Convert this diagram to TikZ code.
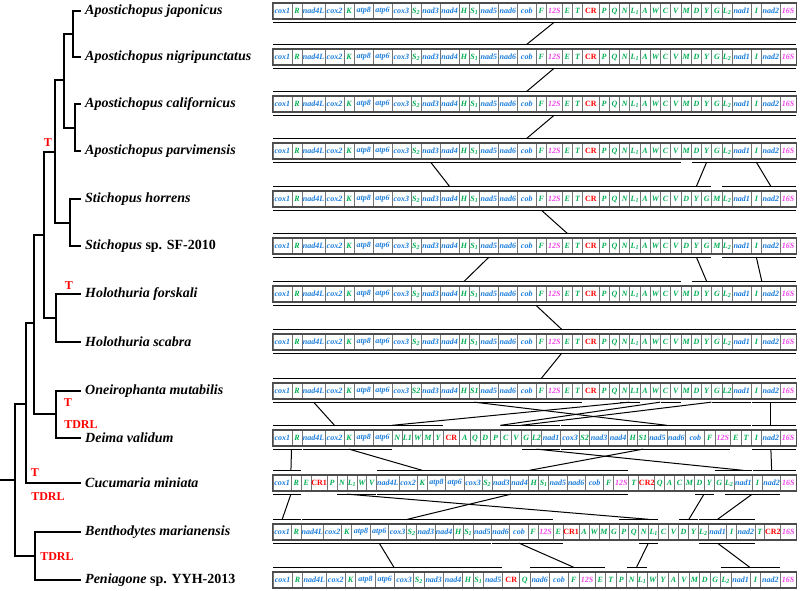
\documentclass[tikz,border=0pt]{standalone}
\usepackage{fontspec}
\setmainfont{Liberation Serif}

\definecolor{pgblue}{RGB}{25,125,220}
\definecolor{trgreen}{RGB}{0,175,85}
\definecolor{rrpink}{RGB}{240,70,235}

% cell widths by gene type
\newcommand\gwp{19}
\newcommand\gwq{23}
\newcommand\gwt{10.3}
\newcommand\gwr{15.75}
\newcommand\gwc{16.5}

\newcommand\generow[3]{%
  \xdef\rowsum{0}%
  \foreach \ty/\gn in #3 {\pgfmathparse{\rowsum+\csname gw\ty\endcsname}\xdef\rowsum{\pgfmathresult}}%
  \pgfmathsetmacro\rowscale{523/\rowsum}%
  \xdef\rowx{273}%
  \foreach \ty/\gn [count=\ci] in #3 {%
    \pgfmathsetmacro\cw{\csname gw\ty\endcsname*\rowscale}%
    \node[cell, gene\ty, minimum width=\cw pt] (#1-\ci) at (\rowx+\cw/2,#2) {\makebox[0pt]{\gn}};
    \pgfmathparse{\rowx+\cw}\xdef\rowx{\pgfmathresult}%
    \xdef\rowlast{\ci}%
  }%
  \draw[rowframe] (#1-1.north west) rectangle (#1-\rowlast.south east);
}
\newcommand\segbelow[3]{\draw[seg] ([yshift=-3pt]#1-#2.south west) -- ([yshift=-3pt]#1-#3.south east);}
\newcommand\segabove[3]{\draw[seg] ([yshift=4.5pt]#1-#2.north west) -- ([yshift=4.5pt]#1-#3.north east);}
\newcommand\genelink[2]{\draw[lnk] ([yshift=-3pt]#1) -- ([yshift=4.5pt]#2);}

\def\orderstd{p/cox1,t/R,q/nad4L,p/cox2,t/K,p/atp8,p/atp6,p/cox3,t/S\textsubscript{2},p/nad3,p/nad4,t/H,t/S\textsubscript{1},p/nad5,p/nad6,p/cob,t/F,r/12S,t/E,t/T,c/CR,t/P,t/Q,t/N,t/L\textsubscript{1},t/A,t/W,t/C,t/V,t/M,t/D,t/Y,t/G,t/L\textsubscript{2},p/nad1,t/I,p/nad2,r/16S}
\def\orderstich{p/cox1,t/R,q/nad4L,p/cox2,t/K,p/atp8,p/atp6,p/cox3,t/S\textsubscript{2},p/nad3,p/nad4,t/H,t/S\textsubscript{1},p/nad5,p/nad6,p/cob,t/F,r/12S,t/E,t/T,c/CR,t/P,t/Q,t/N,t/L\textsubscript{1},t/A,t/W,t/C,t/V,t/D,t/Y,t/G,t/M,t/L\textsubscript{2},p/nad1,t/I,p/nad2,r/16S}
\def\orderoneiro{p/cox1,t/R,q/nad4L,p/cox2,t/K,p/atp8,p/atp6,p/cox3,t/S2,p/nad3,p/nad4,t/H,t/S1,p/nad5,p/nad6,p/cob,t/F,r/12S,t/E,t/T,c/CR,t/P,t/Q,t/N,t/L1,t/A,t/W,t/C,t/V,t/M,t/D,t/Y,t/G,t/L2,p/nad1,t/I,p/nad2,r/16S}
\def\orderdeima{p/cox1,t/R,q/nad4L,p/cox2,t/K,p/atp8,p/atp6,t/N,t/L1,t/W,t/M,t/Y,c/CR,t/A,t/Q,t/D,t/P,t/C,t/V,t/G,t/L2,p/nad1,p/cox3,t/S2,p/nad3,p/nad4,t/H,t/S1,p/nad5,p/nad6,p/cob,t/F,r/12S,t/E,t/T,t/I,p/nad2,r/16S}
\def\ordercucu{p/cox1,t/R,t/E,c/CR1,t/P,t/N,t/L\textsubscript{1},t/W,t/V,q/nad4L,p/cox2,t/K,p/atp8,p/atp6,p/cox3,t/S\textsubscript{2},p/nad3,p/nad4,t/H,t/S\textsubscript{1},p/nad5,p/nad6,p/cob,t/F,r/12S,t/T,c/CR2,t/Q,t/A,t/C,t/M,t/D,t/Y,t/G,t/L\textsubscript{2},p/nad1,t/I,p/nad2,r/16S}
\def\orderbentho{p/cox1,t/R,q/nad4L,p/cox2,t/K,p/atp8,p/atp6,p/cox3,t/S\textsubscript{2},p/nad3,p/nad4,t/H,t/S\textsubscript{1},p/nad5,p/nad6,p/cob,t/F,r/12S,t/E,c/CR1,t/A,t/W,t/M,t/G,t/P,t/Q,t/N,t/L\textsubscript{1},t/C,t/V,t/D,t/Y,t/L\textsubscript{2},p/nad1,t/I,p/nad2,t/T,c/CR2,r/16S}
\def\orderpenia{p/cox1,t/R,q/nad4L,p/cox2,t/K,p/atp8,p/atp6,p/cox3,t/S\textsubscript{2},p/nad3,p/nad4,t/H,t/S\textsubscript{1},p/nad5,c/CR,t/Q,p/nad6,p/cob,t/F,r/12S,t/E,t/T,t/P,t/N,t/L\textsubscript{1},t/W,t/Y,t/A,t/V,t/M,t/D,t/G,t/L\textsubscript{2},p/nad1,t/I,p/nad2,r/16S}

\begin{document}
\begin{tikzpicture}[x=1pt, y=-1pt,
    br/.style={line width=1.4pt, line cap=rect},
    sp/.style={font=\fontsize{14}{16}\selectfont\bfseries\itshape, anchor=west, inner xsep=5pt, inner ysep=0pt},
    evt/.style={font=\fontsize{12}{14}\selectfont\bfseries, text=red, inner sep=0pt},
    cell/.style={draw=black!55, line width=0.8pt, inner sep=0pt, minimum height=15.5pt,
                 font=\fontsize{8}{9}\selectfont\bfseries\itshape},
    genep/.style={text=pgblue}, geneq/.style={text=pgblue},
    genet/.style={text=trgreen}, gener/.style={text=rrpink},
    genec/.style={text=red, font=\fontsize{8}{9}\selectfont\bfseries},
    rowframe/.style={draw=black!70, line width=1.5pt},
    seg/.style={line width=1.3pt, shorten <=0.8pt, shorten >=0.8pt},
    lnk/.style={line width=1pt}]

  \useasboundingbox[fill=white] (0,0) rectangle (800,590);

  % tree
  \foreach \n/\y/\name in {%
    1/11/{Apostichopus japonicus},
    2/57/{Apostichopus nigripunctatus},
    3/104/{Apostichopus californicus},
    4/151/{Apostichopus parvimensis},
    5/199/{Stichopus horrens},
    6/246/{Stichopus\upshape\ sp. SF-2010},
    7/294/{Holothuria forskali},
    8/342/{Holothuria scabra},
    9/391/{Oneirophanta mutabilis},
    10/438/{Deima validum},
    11/483/{Cucumaria miniata},
    12/532/{Benthodytes marianensis},
    13/580/{Peniagone\upshape\ sp. YYH-2013}}
  {
    \node[sp] (sp\n) at (80,\y) {\name};
  }

  \coordinate (root) at (0,480);
  \coordinate (nA) at (15,480);
  \coordinate (nB) at (26,404);
  \coordinate (nC) at (34,323);
  \coordinate (nD) at (44,235);
  \coordinate (nE) at (55,152);
  \coordinate (nF) at (64,80);
  \coordinate (nG) at (73,34);
  \coordinate (nH) at (75,128);
  \coordinate (nI) at (70,223);
  \coordinate (nJ) at (56,318);
  \coordinate (nK) at (56,414);
  \coordinate (nL) at (35,556);

  \draw[br] (root) -- (nA);
  \foreach \p/\c in {nA/nB, nA/nL, nB/nC, nB/sp11.west, nC/nD, nC/nK, nD/nE, nD/nJ,
                     nE/nF, nE/nI, nF/nG, nF/nH, nG/sp1.west, nG/sp2.west, nH/sp3.west, nH/sp4.west,
                     nI/sp5.west, nI/sp6.west, nJ/sp7.west, nJ/sp8.west, nK/sp9.west, nK/sp10.west,
                     nL/sp12.west, nL/sp13.west}
    \draw[br] (\p) |- (\c);

  \node[evt] (ev1) at (48,143) {T};
  \node[evt] (ev2) at (69,286) {T};
  \node[evt] (ev3) at (68,403) {T};
  \node[evt] (ev4) at (81,425) {TDRL};
  \node[evt] (ev5) at (35,473) {T};
  \node[evt] (ev6) at (48,497) {TDRL};
  \node[evt] (ev7) at (57,557) {TDRL};

  % gene orders
  \generow{r1}{11}{\orderstd}
  \generow{r2}{57}{\orderstd}
  \generow{r3}{104}{\orderstd}
  \generow{r4}{151}{\orderstd}
  \generow{r5}{199}{\orderstich}
  \generow{r6}{246}{\orderstich}
  \generow{r7}{294}{\orderstd}
  \generow{r8}{342}{\orderstd}
  \generow{r9}{391}{\orderoneiro}
  \generow{r10}{438}{\orderdeima}
  \generow{r11}{483}{\ordercucu}
  \generow{r12}{532}{\orderbentho}
  \generow{r13}{580}{\orderpenia}

  % blocks and links
  \foreach \a/\b in {r1/r2, r2/r3, r3/r4, r5/r6, r7/r8, r8/r9}
  {
    \segbelow{\a}{1}{38}
    \segabove{\b}{1}{38}
  }
  \genelink{r1-18.south}{r2-16.north}
  \genelink{r2-18.south}{r3-16.north}
  \genelink{r3-18.south}{r4-16.north}
  \genelink{r5-17.south}{r6-19.north}
  \genelink{r7-17.south west}{r8-19.north west}
  \genelink{r8-19.south west}{r9-17.north}

  \foreach \a/\b in {1/29, 31/33, 34/38} {\segbelow{r4}{\a}{\b}}
  \foreach \a/\b in {1/29, 30/32, 34/38} {\segabove{r5}{\a}{\b}}
  \genelink{r4-10.south}{r5-11.north}
  \genelink{r4-32.south}{r5-31.north}
  \genelink{r4-36.south}{r5-37.north}

  \foreach \a/\b in {1/29, 30/32, 34/38} {\segbelow{r6}{\a}{\b}}
  \foreach \a/\b in {1/29, 31/33, 34/38} {\segabove{r7}{\a}{\b}}
  \genelink{r6-14.south}{r7-12.north}
  \genelink{r6-31.south}{r7-32.north}
  \genelink{r6-36.south}{r7-36.north east}

  \foreach \a/\b in {1/7, 8/20, 24/25, 28/29, 33/35, 36/38} {\segbelow{r9}{\a}{\b}}
  \foreach \a/\b in {1/7, 8/12, 18/19, 20/22, 23/35, 36/38} {\segabove{r10}{\a}{\b}}
  \genelink{r9-3.south}{r10-4.north}
  \genelink{r9-25.south west}{r10-8.north west}
  \genelink{r9-13.south}{r10-29.north east}
  \genelink{r9-28.south west}{r10-18.north west}
  \genelink{r9-33.south west}{r10-20.north west}
  \genelink{r9-37.south}{r10-37.north}

  \foreach \a/\b in {1/2, 3/7, 20/22, 23/33, 36/38} {\segbelow{r10}{\a}{\b}}
  \foreach \a/\b in {1/2, 10/14, 15/25, 34/36, 37/39} {\segabove{r11}{\a}{\b}}
  \genelink{r10-2.south west}{r11-2.north west}
  \genelink{r10-5.south}{r11-12.north}
  \genelink{r10-28.south}{r11-18.north east}
  \genelink{r10-21.south}{r11-36.north}
  \genelink{r10-37.south}{r11-38.north}

  \foreach \a/\b in {1/2, 6/9, 10/25, 32/33, 35/38} {\segbelow{r11}{\a}{\b}}
  \foreach \a/\b in {1/2, 3/18, 25/28, 31/32, 33/36} {\segabove{r12}{\a}{\b}}
  \genelink{r11-2.south west}{r12-1.north}
  \genelink{r11-6.south east}{r12-27.north east}
  \genelink{r11-17.south east}{r12-8.north east}
  \genelink{r11-33.south west}{r12-31.north east}
  \genelink{r11-37.south west}{r12-34.north}

  \foreach \a/\b in {1/14, 15/19, 27/28, 33/36} {\segbelow{r12}{\a}{\b}}
  \foreach \a/\b in {1/14, 17/21, 24/25, 33/36} {\segabove{r13}{\a}{\b}}
  \genelink{r12-7.south}{r13-8.north west}
  \genelink{r12-16.south}{r13-19.north}
  \genelink{r12-28.south west}{r13-25.north west}
  \genelink{r12-34.south}{r13-35.north west}
\end{tikzpicture}
\end{document}
